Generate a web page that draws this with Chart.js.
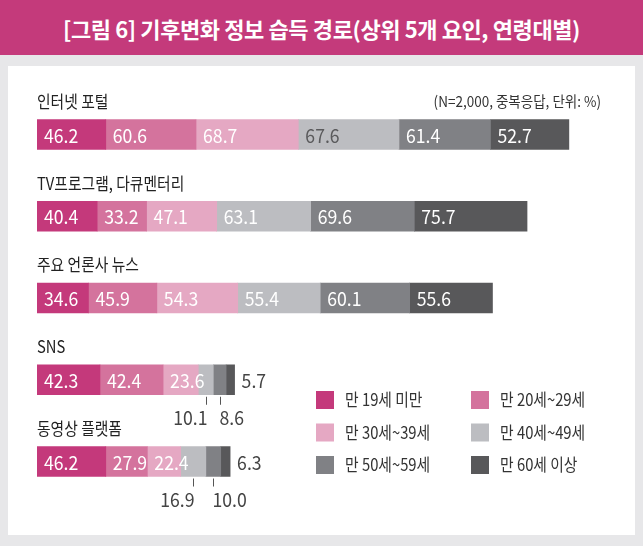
<!DOCTYPE html>
<html>
<head>
<meta charset="utf-8">
<script src="https://cdn.jsdelivr.net/npm/chart.js@4.4.1/dist/chart.umd.min.js"></script>
<style>
  body { margin: 0; width: 643px; height: 546px; background: #e7e7e9; position: relative; overflow: hidden; font-family: "Noto Sans CJK KR", "Noto Sans", sans-serif; }
  #title { position: absolute; left: 0; top: 0; width: 643px; height: 55px; background: #c43a7b; color: #fff;
           font-size: 22px; font-weight: bold; display: flex; align-items: center; justify-content: center; letter-spacing: -0.4px; }
  #panel { position: absolute; left: 8px; top: 66px; width: 627px; height: 469px; background: #fff; }
  #wrap { position: absolute; left: 0; top: 0; width: 643px; height: 546px; }
</style>
</head>
<body>
<div id="title">[그림 6] 기후변화 정보 습득 경로(상위 5개 요인, 연령대별)</div>
<div id="panel"></div>
<div id="wrap"><canvas id="chart"></canvas></div>
<script>
const categories = ['인터넷 포털', 'TV프로그램, 다큐멘터리', '주요 언론사 뉴스', 'SNS', '동영상 플랫폼'];
const ageGroups = ['만 19세 미만', '만 20세~29세', '만 30세~39세', '만 40세~49세', '만 50세~59세', '만 60세 이상'];
const under19 = [46.2, 40.4, 34.6, 42.3, 46.2];
const age20s = [60.6, 33.2, 45.9, 42.4, 27.9];
const age30s = [68.7, 47.1, 54.3, 23.6, 22.4];
const age40s = [67.6, 63.1, 55.4, 10.1, 16.9];
const age50s = [61.4, 69.6, 60.1, 8.6, 10.0];
const over60 = [52.7, 75.7, 55.6, 5.7, 6.3];
const note = '(N=2,000, 중복응답, 단위: %)';

const colors = ['#c4397b', '#d4739d', '#e5a8c3', '#bcbdc1', '#808185', '#58585a'];
const series = [under19, age20s, age30s, age40s, age50s, over60];

function drawText(ctx, text, x, y, size, color, align, squeeze, weight) {
    ctx.save();
    ctx.font = (weight || 'normal') + ' ' + size + 'px "Noto Sans CJK KR", "Noto Sans", sans-serif';
    ctx.fillStyle = color;
    ctx.textBaseline = 'middle';
    ctx.textAlign = align;
    ctx.translate(x, y);
    ctx.scale(squeeze, 1);
    ctx.fillText(text, 0, 0);
    ctx.restore();
}

const labelPlugin = {
    id: 'labels',
    afterDatasetsDraw(chart) {
        const ctx = chart.ctx;
        const yScale = chart.scales.y;
        const numFont = 19;
        const last = chart.data.datasets.length - 1;

        // category titles above each bar
        chart.data.labels.forEach((label, i) => {
            const y = yScale.getPixelForValue(i) - 33;
            drawText(ctx, label, chart.chartArea.left, y, 17, '#222', 'left', 0.87);
        });
        drawText(ctx, note, 601, yScale.getPixelForValue(0) - 33, 15, '#333', 'right', 0.9);

        // value labels
        chart.data.datasets.forEach((ds, d) => {
            const meta = chart.getDatasetMeta(d);
            meta.data.forEach((bar, i) => {
                const v = ds.data[i];
                const txt = v.toFixed(1);
                const left = Math.min(bar.base, bar.x);
                const right = Math.max(bar.base, bar.x);
                const bottom = bar.y + bar.height / 2;
                if (v >= 20) {
                    const c = (d === 3 && i === 0) ? '#5a5a5c' : '#fff';
                    drawText(ctx, txt, left + 7, bar.y + 1, numFont, c, 'left', 0.93);
                } else if (d === last) {
                    drawText(ctx, txt, right + 7, bar.y + 1, numFont, '#444', 'left', 0.93);
                } else {
                    // small segments: short tick below, label pushed away from its neighbour
                    const cx = Math.round((left + right) / 2) + 0.5;
                    ctx.save();
                    ctx.strokeStyle = '#555';
                    ctx.lineWidth = 1;
                    ctx.beginPath();
                    ctx.moveTo(cx, bottom + 2);
                    ctx.lineTo(cx, bottom + 10);
                    ctx.stroke();
                    ctx.restore();
                    const toRight = d === last - 1;
                    drawText(ctx, txt, toRight ? cx - 1 : cx + 1, bottom + 23, numFont, '#444',
                        toRight ? 'left' : 'right', 0.93);
                }
            });
        });

        // legend, two columns
        const colX = [316, 471];
        chart.data.datasets.forEach((ds, d) => {
            const x = colX[d % 2];
            const y = 391 + Math.floor(d / 2) * 32.5;
            ctx.fillStyle = ds.backgroundColor;
            ctx.fillRect(x, y, 18, 18);
            drawText(ctx, ds.label, x + 29, y + 9, 17, '#333', 'left', 0.87);
        });
    }
};

new Chart(document.getElementById('chart'), {
    type: 'bar',
    data: {
        labels: categories,
        datasets: series.map((values, k) => ({
            label: ageGroups[k],
            data: values,
            backgroundColor: colors[k],
            borderWidth: 0,
            barThickness: 30
        }))
    },
    options: {
        indexAxis: 'y',
        responsive: true,
        maintainAspectRatio: false,
        animation: false,
        layout: { padding: { left: 37, right: 10.4, top: 93.6, bottom: 43.6 } },
        scales: {
            x: { stacked: true, min: 0, max: 400, display: false },
            y: { stacked: true, display: false }
        },
        plugins: {
            legend: { display: false },
            tooltip: { enabled: false }
        }
    },
    plugins: [labelPlugin]
});
</script>
</body>
</html>
